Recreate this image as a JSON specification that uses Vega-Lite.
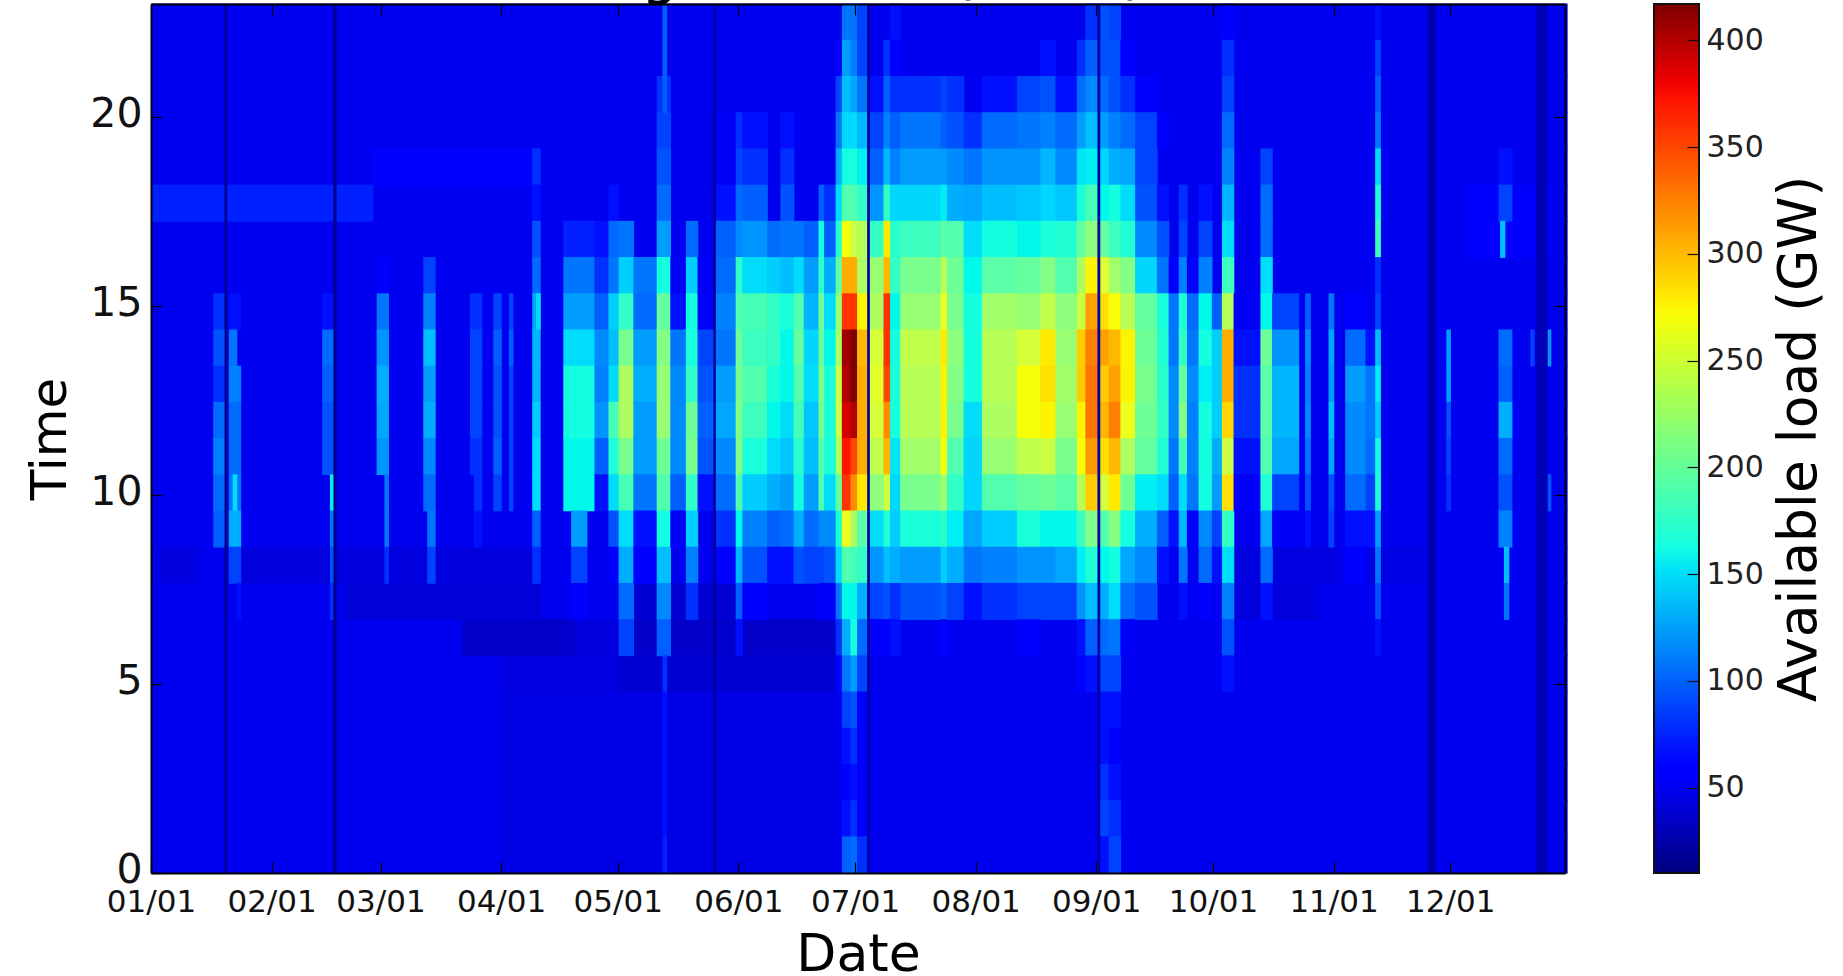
{"$schema":"https://vega.github.io/schema/vega-lite/v6.json","background":"white","padding":{"left":25,"right":0,"top":-53,"bottom":0},"spacing":85,"config":{"font":"DejaVu Sans","view":{"stroke":null}},"hconcat":[{"width":1414,"height":869,"title":{"text":"Avg net load (2015)","fontSize":58,"fontWeight":"normal","font":"DejaVu Sans","color":"black","offset":-2,"anchor":"middle"},"resolve":{"scale":{"y":"independent"},"axis":{"x":"independent","y":"independent"}},"layer":[{"data":{"values":[
{"a":0,"b":364,"h":0,"v":48},{"a":0,"b":364,"h":1,"v":48},{"a":0,"b":364,"h":2,"v":48},{"a":0,"b":364,"h":3,"v":48},{"a":0,"b":364,"h":4,"v":48},{"a":0,"b":364,"h":5,"v":48},{"a":0,"b":364,"h":6,"v":48},{"a":0,"b":364,"h":7,"v":48},{"a":0,"b":364,"h":8,"v":48},{"a":0,"b":364,"h":9,"v":48},{"a":0,"b":364,"h":10,"v":48},{"a":0,"b":364,"h":11,"v":48},{"a":0,"b":364,"h":12,"v":48},{"a":0,"b":364,"h":13,"v":48},{"a":0,"b":364,"h":14,"v":48},{"a":0,"b":364,"h":15,"v":48},{"a":0,"b":364,"h":16,"v":48},{"a":0,"b":364,"h":17,"v":48},{"a":0,"b":364,"h":18,"v":48},{"a":0,"b":364,"h":19,"v":48},{"a":0,"b":364,"h":20,"v":48},{"a":0,"b":364,"h":21,"v":48},{"a":0,"b":364,"h":22,"v":48},{"a":0,"b":364,"h":23,"v":48},
{"a":0,"b":57,"h":18,"v":62},{"a":57,"b":100,"h":19,"v":53},{"a":338,"b":360,"h":18,"v":58},{"a":338,"b":360,"h":17,"v":55},
{"a":90,"b":176,"h":0,"v":44},{"a":90,"b":176,"h":1,"v":44},{"a":90,"b":176,"h":2,"v":44},{"a":90,"b":176,"h":3,"v":44},{"a":90,"b":176,"h":4,"v":44},{"a":90,"b":176,"h":5,"v":43},
{"a":80,"b":109,"h":6,"v":35},{"a":109,"b":124,"h":6,"v":42},{"a":124,"b":176,"h":6,"v":35},{"a":120,"b":176,"h":5,"v":38},{"a":50,"b":100,"h":7,"v":40},{"a":124,"b":150,"h":7,"v":38},{"a":2,"b":12,"h":8,"v":42},{"a":23,"b":98,"h":8,"v":42},{"a":278,"b":300,"h":7,"v":42},{"a":278,"b":305,"h":8,"v":43},{"a":310,"b":330,"h":8,"v":44},
{"a":16,"b":19,"h":15,"v":65},{"a":16,"b":19,"h":14,"v":75},{"a":16,"b":19,"h":13,"v":65},{"a":16,"b":19,"h":12,"v":85},{"a":16,"b":19,"h":11,"v":95},{"a":16,"b":19,"h":10,"v":85},{"a":16,"b":19,"h":9,"v":80},
{"a":20,"b":23,"h":15,"v":60},{"a":20,"b":22,"h":14,"v":90},{"a":20,"b":23,"h":13,"v":95},{"a":20,"b":23,"h":12,"v":85},{"a":20,"b":23,"h":11,"v":85},{"a":20,"b":23,"h":10,"v":90},{"a":21,"b":22,"h":10,"v":150},{"a":20,"b":23,"h":9,"v":120},{"a":20,"b":23,"h":8,"v":70},{"a":22,"b":23,"h":7,"v":60},
{"a":44,"b":47,"h":15,"v":60},{"a":44,"b":47,"h":14,"v":85},{"a":44,"b":47,"h":13,"v":80},{"a":44,"b":47,"h":12,"v":75},{"a":44,"b":47,"h":11,"v":75},{"a":46,"b":47,"h":10,"v":160},{"a":46,"b":47,"h":9,"v":90},{"a":46,"b":47,"h":8,"v":75},{"a":46,"b":47,"h":7,"v":65},
{"a":58,"b":61,"h":16,"v":55},{"a":58,"b":61,"h":15,"v":90},{"a":58,"b":61,"h":14,"v":105},{"a":58,"b":61,"h":13,"v":120},{"a":58,"b":61,"h":12,"v":115},{"a":58,"b":61,"h":11,"v":105},{"a":60,"b":61,"h":10,"v":90},{"a":60,"b":61,"h":9,"v":90},{"a":60,"b":61,"h":8,"v":65},
{"a":70,"b":73,"h":16,"v":70},{"a":70,"b":73,"h":15,"v":95},{"a":70,"b":73,"h":14,"v":130},{"a":70,"b":73,"h":13,"v":110},{"a":70,"b":73,"h":12,"v":120},{"a":70,"b":73,"h":11,"v":100},{"a":70,"b":73,"h":10,"v":85},{"a":71,"b":73,"h":9,"v":90},{"a":71,"b":73,"h":8,"v":70},
{"a":82,"b":85,"h":15,"v":65},{"a":82,"b":85,"h":14,"v":70},{"a":82,"b":85,"h":13,"v":70},{"a":82,"b":85,"h":12,"v":70},{"a":82,"b":85,"h":11,"v":65},{"a":83,"b":85,"h":10,"v":65},{"a":83,"b":85,"h":9,"v":60},
{"a":88,"b":90,"h":15,"v":70},{"a":88,"b":90,"h":14,"v":80},{"a":88,"b":90,"h":13,"v":75},{"a":88,"b":90,"h":12,"v":75},{"a":88,"b":90,"h":11,"v":80},{"a":88,"b":90,"h":10,"v":70},
{"a":92,"b":93,"h":15,"v":70},{"a":92,"b":93,"h":14,"v":80},{"a":92,"b":93,"h":13,"v":70},{"a":92,"b":93,"h":12,"v":70},{"a":92,"b":93,"h":11,"v":70},{"a":92,"b":93,"h":10,"v":70},
{"a":98,"b":100,"h":19,"v":65},{"a":98,"b":100,"h":18,"v":60},{"a":98,"b":100,"h":17,"v":75},{"a":98,"b":100,"h":16,"v":85},{"a":98,"b":100,"h":15,"v":115},{"a":99,"b":100,"h":15,"v":150},{"a":98,"b":100,"h":14,"v":125},{"a":98,"b":100,"h":13,"v":125},{"a":98,"b":100,"h":12,"v":140},{"a":98,"b":100,"h":11,"v":150},{"a":98,"b":100,"h":10,"v":150},{"a":98,"b":100,"h":9,"v":80},{"a":98,"b":100,"h":8,"v":65},
{"a":106,"b":114,"h":17,"v":62},{"a":106,"b":114,"h":16,"v":90},{"a":106,"b":114,"h":15,"v":110},{"a":106,"b":114,"h":14,"v":150},{"a":106,"b":114,"h":13,"v":170},{"a":106,"b":114,"h":12,"v":170},{"a":106,"b":114,"h":11,"v":165},{"a":106,"b":114,"h":10,"v":165},{"a":108,"b":112,"h":9,"v":110},{"a":108,"b":112,"h":8,"v":70},{"a":108,"b":112,"h":7,"v":52},
{"a":114,"b":117.6,"h":17,"v":60},{"a":114,"b":117.6,"h":16,"v":65},{"a":114,"b":117.6,"h":15,"v":80},{"a":114,"b":117.6,"h":14,"v":100},{"a":114,"b":117.6,"h":13,"v":95},{"a":114,"b":117.6,"h":12,"v":105},{"a":114,"b":117.6,"h":11,"v":80},{"a":114,"b":117.6,"h":10,"v":60},
{"a":117.6,"b":120.2,"h":18,"v":60},{"a":117.6,"b":120.2,"h":17,"v":85},{"a":117.6,"b":120.2,"h":16,"v":90},{"a":117.6,"b":120.2,"h":15,"v":140},{"a":117.6,"b":120.2,"h":14,"v":130},{"a":117.6,"b":120.2,"h":13,"v":150},{"a":117.6,"b":120.2,"h":12,"v":200},{"a":117.6,"b":120.2,"h":11,"v":180},{"a":117.6,"b":120.2,"h":10,"v":150},{"a":117.6,"b":120.2,"h":9,"v":75},{"a":117.6,"b":120.2,"h":8,"v":55},
{"a":120.2,"b":124,"h":17,"v":90},{"a":120.2,"b":124,"h":16,"v":140},{"a":120.2,"b":124,"h":15,"v":190},{"a":120.2,"b":124,"h":14,"v":225},{"a":120.2,"b":124,"h":13,"v":250},{"a":120.2,"b":124,"h":12,"v":250},{"a":120.2,"b":124,"h":11,"v":225},{"a":120.2,"b":124,"h":10,"v":200},{"a":120.2,"b":124,"h":9,"v":150},{"a":120.2,"b":124,"h":8,"v":120},{"a":120.2,"b":124,"h":7,"v":85},{"a":120.2,"b":124,"h":6,"v":70},
{"a":124,"b":130,"h":16,"v":90},{"a":124,"b":130,"h":15,"v":85},{"a":124,"b":130,"h":14,"v":110},{"a":124,"b":130,"h":13,"v":120},{"a":124,"b":130,"h":12,"v":110},{"a":124,"b":130,"h":11,"v":110},{"a":124,"b":130,"h":10,"v":90},{"a":124,"b":130,"h":9,"v":60},{"a":124,"b":130,"h":8,"v":55},
{"a":130,"b":133.5,"h":21,"v":65},{"a":130,"b":133.5,"h":20,"v":70},{"a":130,"b":133.5,"h":19,"v":75},{"a":130,"b":133.5,"h":18,"v":85},{"a":130,"b":133.5,"h":17,"v":110},{"a":130,"b":133.5,"h":16,"v":170},{"a":130,"b":133.5,"h":15,"v":215},{"a":130,"b":133.5,"h":14,"v":230},{"a":130,"b":133.5,"h":13,"v":240},{"a":130,"b":133.5,"h":12,"v":240},{"a":130,"b":133.5,"h":11,"v":220},{"a":130,"b":133.5,"h":10,"v":205},{"a":130,"b":133.5,"h":9,"v":170},{"a":130,"b":133.5,"h":8,"v":130},{"a":130,"b":133.5,"h":7,"v":100},{"a":130,"b":133.5,"h":6,"v":80},{"a":131.5,"b":132.5,"h":5,"v":65},{"a":131.5,"b":132.5,"h":4,"v":60},{"a":131.5,"b":132.5,"h":3,"v":60},{"a":131.5,"b":132.5,"h":2,"v":60},{"a":131.5,"b":132.5,"h":1,"v":60},{"a":131.5,"b":132.5,"h":0,"v":62},{"a":131.5,"b":132.5,"h":23,"v":80},{"a":131.5,"b":132.5,"h":22,"v":80},{"a":131.5,"b":132.5,"h":21,"v":80},
{"a":133.5,"b":137.5,"h":16,"v":55},{"a":133.5,"b":137.5,"h":15,"v":60},{"a":133.5,"b":137.5,"h":14,"v":90},{"a":133.5,"b":137.5,"h":13,"v":100},{"a":133.5,"b":137.5,"h":12,"v":100},{"a":133.5,"b":137.5,"h":11,"v":100},{"a":133.5,"b":137.5,"h":10,"v":80},{"a":133.5,"b":137.5,"h":9,"v":55},
{"a":137.5,"b":140.5,"h":17,"v":85},{"a":137.5,"b":140.5,"h":16,"v":140},{"a":137.5,"b":140.5,"h":15,"v":170},{"a":137.5,"b":140.5,"h":14,"v":175},{"a":137.5,"b":140.5,"h":13,"v":190},{"a":137.5,"b":140.5,"h":12,"v":220},{"a":137.5,"b":140.5,"h":11,"v":225},{"a":137.5,"b":140.5,"h":10,"v":190},{"a":137.5,"b":140.5,"h":9,"v":140},{"a":137.5,"b":140.5,"h":8,"v":95},{"a":137.5,"b":140.5,"h":7,"v":65},
{"a":140.5,"b":144.7,"h":16,"v":50},{"a":140.5,"b":144.7,"h":15,"v":55},{"a":140.5,"b":144.7,"h":14,"v":70},{"a":140.5,"b":144.7,"h":13,"v":75},{"a":140.5,"b":144.7,"h":12,"v":80},{"a":140.5,"b":144.7,"h":11,"v":75},{"a":140.5,"b":144.7,"h":10,"v":60},
{"a":145,"b":151,"h":20,"v":50},{"a":145,"b":151,"h":19,"v":50},{"a":145,"b":151,"h":18,"v":60},{"a":145,"b":151,"h":17,"v":80},{"a":145,"b":151,"h":16,"v":85},{"a":145,"b":151,"h":15,"v":95},{"a":145,"b":151,"h":14,"v":90},{"a":145,"b":151,"h":13,"v":110},{"a":145,"b":151,"h":12,"v":115},{"a":145,"b":151,"h":11,"v":100},{"a":145,"b":151,"h":10,"v":85},{"a":145,"b":151,"h":9,"v":65},{"a":145,"b":151,"h":8,"v":55},
{"a":150.3,"b":152,"h":20,"v":65},{"a":150.3,"b":152,"h":19,"v":70},{"a":150.3,"b":152,"h":18,"v":85},{"a":150.3,"b":152,"h":17,"v":100},{"a":150.3,"b":152,"h":16,"v":190},{"a":150.3,"b":152,"h":15,"v":205},{"a":150.3,"b":152,"h":14,"v":220},{"a":150.3,"b":152,"h":13,"v":225},{"a":150.3,"b":152,"h":12,"v":230},{"a":150.3,"b":152,"h":11,"v":230},{"a":150.3,"b":152,"h":10,"v":205},{"a":150.3,"b":152,"h":9,"v":165},{"a":150.3,"b":152,"h":8,"v":125},{"a":150.3,"b":152,"h":7,"v":80},{"a":150.3,"b":152,"h":6,"v":60},
{"a":152,"b":158.4,"h":20,"v":60},{"a":152,"b":158.4,"h":19,"v":65},{"a":152,"b":158.4,"h":18,"v":80},{"a":152,"b":158.4,"h":17,"v":105},{"a":152,"b":158.4,"h":16,"v":150},{"a":152,"b":158.4,"h":15,"v":200},{"a":152,"b":158.4,"h":14,"v":195},{"a":152,"b":158.4,"h":13,"v":205},{"a":152,"b":158.4,"h":12,"v":195},{"a":152,"b":158.4,"h":11,"v":175},{"a":152,"b":158.4,"h":10,"v":140},{"a":152,"b":158.4,"h":9,"v":95},{"a":152,"b":158.4,"h":8,"v":75},{"a":152,"b":158.4,"h":7,"v":55},
{"a":158.4,"b":161.8,"h":17,"v":85},{"a":158.4,"b":161.8,"h":16,"v":140},{"a":158.4,"b":161.8,"h":15,"v":190},{"a":158.4,"b":161.8,"h":14,"v":190},{"a":158.4,"b":161.8,"h":13,"v":175},{"a":158.4,"b":161.8,"h":12,"v":165},{"a":158.4,"b":161.8,"h":11,"v":150},{"a":158.4,"b":161.8,"h":10,"v":120},{"a":158.4,"b":161.8,"h":9,"v":80},{"a":158.4,"b":161.8,"h":8,"v":60},
{"a":161.8,"b":165.2,"h":20,"v":60},{"a":161.8,"b":165.2,"h":19,"v":65},{"a":161.8,"b":165.2,"h":18,"v":75},{"a":161.8,"b":165.2,"h":17,"v":90},{"a":161.8,"b":165.2,"h":16,"v":130},{"a":161.8,"b":165.2,"h":15,"v":175},{"a":161.8,"b":165.2,"h":14,"v":165},{"a":161.8,"b":165.2,"h":13,"v":165},{"a":161.8,"b":165.2,"h":12,"v":150},{"a":161.8,"b":165.2,"h":11,"v":135},{"a":161.8,"b":165.2,"h":10,"v":110},{"a":161.8,"b":165.2,"h":9,"v":85},{"a":161.8,"b":165.2,"h":8,"v":60},
{"a":165.2,"b":167.8,"h":17,"v":90},{"a":165.2,"b":167.8,"h":16,"v":150},{"a":165.2,"b":167.8,"h":15,"v":205},{"a":165.2,"b":167.8,"h":14,"v":215},{"a":165.2,"b":167.8,"h":13,"v":205},{"a":165.2,"b":167.8,"h":12,"v":200},{"a":165.2,"b":167.8,"h":11,"v":185},{"a":165.2,"b":167.8,"h":10,"v":170},{"a":165.2,"b":167.8,"h":9,"v":120},{"a":165.2,"b":167.8,"h":8,"v":75},
{"a":167.8,"b":171.6,"h":17,"v":80},{"a":167.8,"b":171.6,"h":16,"v":110},{"a":167.8,"b":171.6,"h":15,"v":125},{"a":167.8,"b":171.6,"h":14,"v":145},{"a":167.8,"b":171.6,"h":13,"v":150},{"a":167.8,"b":171.6,"h":12,"v":135},{"a":167.8,"b":171.6,"h":11,"v":130},{"a":167.8,"b":171.6,"h":10,"v":110},{"a":167.8,"b":171.6,"h":9,"v":85},{"a":167.8,"b":171.6,"h":8,"v":70},
{"a":171.6,"b":173,"h":18,"v":80},{"a":171.6,"b":173,"h":17,"v":170},{"a":171.6,"b":173,"h":16,"v":190},{"a":171.6,"b":173,"h":15,"v":220},{"a":171.6,"b":173,"h":14,"v":220},{"a":171.6,"b":173,"h":13,"v":230},{"a":171.6,"b":173,"h":12,"v":225},{"a":171.6,"b":173,"h":11,"v":210},{"a":171.6,"b":173,"h":10,"v":205},{"a":171.6,"b":173,"h":9,"v":100},{"a":171.6,"b":173,"h":8,"v":70},{"a":171.6,"b":173,"h":7,"v":55},
{"a":173,"b":176,"h":18,"v":65},{"a":173,"b":176,"h":17,"v":80},{"a":173,"b":176,"h":16,"v":120},{"a":173,"b":176,"h":15,"v":150},{"a":173,"b":176,"h":14,"v":165},{"a":173,"b":176,"h":13,"v":175},{"a":173,"b":176,"h":12,"v":175},{"a":173,"b":176,"h":11,"v":175},{"a":173,"b":176,"h":10,"v":150},{"a":173,"b":176,"h":9,"v":100},{"a":173,"b":176,"h":8,"v":75},{"a":173,"b":176,"h":7,"v":50},
{"a":176,"b":177.6,"h":22,"v":55},{"a":176,"b":177.6,"h":21,"v":70},{"a":176,"b":177.6,"h":20,"v":90},{"a":176,"b":177.6,"h":19,"v":120},{"a":176,"b":177.6,"h":18,"v":150},{"a":176,"b":177.6,"h":17,"v":185},{"a":176,"b":177.6,"h":16,"v":215},{"a":176,"b":177.6,"h":15,"v":240},{"a":176,"b":177.6,"h":14,"v":250},{"a":176,"b":177.6,"h":13,"v":265},{"a":176,"b":177.6,"h":12,"v":265},{"a":176,"b":177.6,"h":11,"v":250},{"a":176,"b":177.6,"h":10,"v":215},{"a":176,"b":177.6,"h":9,"v":180},{"a":176,"b":177.6,"h":8,"v":150},{"a":176,"b":177.6,"h":7,"v":90},{"a":176,"b":177.6,"h":6,"v":65},{"a":176,"b":177.6,"h":5,"v":55},
{"a":177.6,"b":179.8,"h":23,"v":90},{"a":177.6,"b":179.8,"h":22,"v":110},{"a":177.6,"b":179.8,"h":21,"v":130},{"a":177.6,"b":179.8,"h":20,"v":145},{"a":177.6,"b":179.8,"h":19,"v":170},{"a":177.6,"b":179.8,"h":18,"v":205},{"a":177.6,"b":179.8,"h":17,"v":285},{"a":177.6,"b":179.8,"h":16,"v":325},{"a":177.6,"b":179.8,"h":15,"v":370},{"a":177.6,"b":179.8,"h":14,"v":405},{"a":177.6,"b":179.8,"h":13,"v":400},{"a":177.6,"b":179.8,"h":12,"v":390},{"a":177.6,"b":179.8,"h":11,"v":375},{"a":177.6,"b":179.8,"h":10,"v":370},{"a":177.6,"b":179.8,"h":9,"v":280},{"a":177.6,"b":179.8,"h":8,"v":205},{"a":177.6,"b":179.8,"h":7,"v":165},{"a":177.6,"b":179.8,"h":6,"v":120},{"a":177.6,"b":179.8,"h":5,"v":90},{"a":177.6,"b":179.8,"h":4,"v":70},{"a":177.6,"b":179.8,"h":3,"v":60},{"a":177.6,"b":179.8,"h":2,"v":55},{"a":177.6,"b":179.8,"h":1,"v":60},{"a":177.6,"b":179.8,"h":0,"v":80},
{"a":179.8,"b":181.5,"h":23,"v":90},{"a":179.8,"b":181.5,"h":22,"v":95},{"a":179.8,"b":181.5,"h":21,"v":115},{"a":179.8,"b":181.5,"h":20,"v":150},{"a":179.8,"b":181.5,"h":19,"v":175},{"a":179.8,"b":181.5,"h":18,"v":205},{"a":179.8,"b":181.5,"h":17,"v":265},{"a":179.8,"b":181.5,"h":16,"v":325},{"a":179.8,"b":181.5,"h":15,"v":370},{"a":179.8,"b":181.5,"h":14,"v":415},{"a":179.8,"b":181.5,"h":13,"v":415},{"a":179.8,"b":181.5,"h":12,"v":400},{"a":179.8,"b":181.5,"h":11,"v":365},{"a":179.8,"b":181.5,"h":10,"v":340},{"a":179.8,"b":181.5,"h":9,"v":250},{"a":179.8,"b":181.5,"h":8,"v":200},{"a":179.8,"b":181.5,"h":7,"v":165},{"a":179.8,"b":181.5,"h":6,"v":170},{"a":179.8,"b":181.5,"h":5,"v":110},{"a":179.8,"b":181.5,"h":4,"v":75},{"a":179.8,"b":181.5,"h":3,"v":65},{"a":179.8,"b":181.5,"h":2,"v":60},{"a":179.8,"b":181.5,"h":1,"v":65},{"a":179.8,"b":181.5,"h":0,"v":85},
{"a":181.5,"b":184.5,"h":23,"v":70},{"a":181.5,"b":184.5,"h":22,"v":70},{"a":181.5,"b":184.5,"h":21,"v":90},{"a":181.5,"b":184.5,"h":20,"v":125},{"a":181.5,"b":184.5,"h":19,"v":160},{"a":181.5,"b":184.5,"h":18,"v":190},{"a":181.5,"b":184.5,"h":17,"v":255},{"a":181.5,"b":184.5,"h":16,"v":250},{"a":181.5,"b":184.5,"h":15,"v":290},{"a":181.5,"b":184.5,"h":14,"v":320},{"a":181.5,"b":184.5,"h":13,"v":325},{"a":181.5,"b":184.5,"h":12,"v":325},{"a":181.5,"b":184.5,"h":11,"v":325},{"a":181.5,"b":184.5,"h":10,"v":295},{"a":181.5,"b":184.5,"h":9,"v":210},{"a":181.5,"b":184.5,"h":8,"v":190},{"a":181.5,"b":184.5,"h":7,"v":120},{"a":181.5,"b":184.5,"h":6,"v":85},{"a":181.5,"b":184.5,"h":5,"v":70},{"a":181.5,"b":184.5,"h":4,"v":55},{"a":181.5,"b":184.5,"h":3,"v":52},{"a":181.5,"b":184.5,"h":2,"v":52},{"a":181.5,"b":184.5,"h":1,"v":55},{"a":181.5,"b":184.5,"h":0,"v":65},
{"a":184.5,"b":188.3,"h":21,"v":60},{"a":184.5,"b":188.3,"h":20,"v":70},{"a":184.5,"b":188.3,"h":19,"v":80},{"a":184.5,"b":188.3,"h":18,"v":105},{"a":184.5,"b":188.3,"h":17,"v":190},{"a":184.5,"b":188.3,"h":16,"v":240},{"a":184.5,"b":188.3,"h":15,"v":250},{"a":184.5,"b":188.3,"h":14,"v":270},{"a":184.5,"b":188.3,"h":13,"v":275},{"a":184.5,"b":188.3,"h":12,"v":270},{"a":184.5,"b":188.3,"h":11,"v":260},{"a":184.5,"b":188.3,"h":10,"v":235},{"a":184.5,"b":188.3,"h":9,"v":150},{"a":184.5,"b":188.3,"h":8,"v":105},{"a":184.5,"b":188.3,"h":7,"v":70},{"a":184.5,"b":188.3,"h":6,"v":55},
{"a":188.3,"b":190,"h":22,"v":65},{"a":188.3,"b":190,"h":21,"v":80},{"a":188.3,"b":190,"h":20,"v":95},{"a":188.3,"b":190,"h":19,"v":125},{"a":188.3,"b":190,"h":18,"v":190},{"a":188.3,"b":190,"h":17,"v":295},{"a":188.3,"b":190,"h":16,"v":320},{"a":188.3,"b":190,"h":15,"v":370},{"a":188.3,"b":190,"h":14,"v":370},{"a":188.3,"b":190,"h":13,"v":365},{"a":188.3,"b":190,"h":12,"v":340},{"a":188.3,"b":190,"h":11,"v":320},{"a":188.3,"b":190,"h":10,"v":265},{"a":188.3,"b":190,"h":9,"v":180},{"a":188.3,"b":190,"h":8,"v":130},{"a":188.3,"b":190,"h":7,"v":75},{"a":188.3,"b":190,"h":6,"v":55},
{"a":190,"b":192.6,"h":23,"v":60},{"a":190,"b":192.6,"h":22,"v":55},{"a":190,"b":192.6,"h":21,"v":65},{"a":190,"b":192.6,"h":20,"v":80},{"a":190,"b":192.6,"h":19,"v":95},{"a":190,"b":192.6,"h":18,"v":145},{"a":190,"b":192.6,"h":17,"v":185},{"a":190,"b":192.6,"h":16,"v":190},{"a":190,"b":192.6,"h":15,"v":165},{"a":190,"b":192.6,"h":14,"v":170},{"a":190,"b":192.6,"h":13,"v":175},{"a":190,"b":192.6,"h":12,"v":170},{"a":190,"b":192.6,"h":11,"v":155},{"a":190,"b":192.6,"h":10,"v":145},{"a":190,"b":192.6,"h":9,"v":140},{"a":190,"b":192.6,"h":8,"v":120},{"a":190,"b":192.6,"h":7,"v":65},{"a":190,"b":192.6,"h":6,"v":60},
{"a":192.6,"b":203,"h":21,"v":65},{"a":192.6,"b":203,"h":20,"v":90},{"a":192.6,"b":203,"h":19,"v":110},{"a":192.6,"b":203,"h":18,"v":145},{"a":192.6,"b":203,"h":17,"v":195},{"a":192.6,"b":203,"h":16,"v":225},{"a":192.6,"b":203,"h":15,"v":240},{"a":192.6,"b":203,"h":14,"v":260},{"a":192.6,"b":203,"h":13,"v":255},{"a":192.6,"b":203,"h":12,"v":255},{"a":192.6,"b":203,"h":11,"v":245},{"a":192.6,"b":203,"h":10,"v":225},{"a":192.6,"b":203,"h":9,"v":175},{"a":192.6,"b":203,"h":8,"v":110},{"a":192.6,"b":203,"h":7,"v":75},
{"a":203,"b":204.6,"h":21,"v":70},{"a":203,"b":204.6,"h":20,"v":80},{"a":203,"b":204.6,"h":19,"v":110},{"a":203,"b":204.6,"h":18,"v":160},{"a":203,"b":204.6,"h":17,"v":210},{"a":203,"b":204.6,"h":16,"v":255},{"a":203,"b":204.6,"h":15,"v":280},{"a":203,"b":204.6,"h":14,"v":295},{"a":203,"b":204.6,"h":13,"v":290},{"a":203,"b":204.6,"h":12,"v":290},{"a":203,"b":204.6,"h":11,"v":285},{"a":203,"b":204.6,"h":10,"v":245},{"a":203,"b":204.6,"h":9,"v":185},{"a":203,"b":204.6,"h":8,"v":140},{"a":203,"b":204.6,"h":7,"v":80},{"a":203,"b":204.6,"h":6,"v":55},
{"a":204.6,"b":208.9,"h":21,"v":65},{"a":204.6,"b":208.9,"h":20,"v":75},{"a":204.6,"b":208.9,"h":19,"v":100},{"a":204.6,"b":208.9,"h":18,"v":120},{"a":204.6,"b":208.9,"h":17,"v":205},{"a":204.6,"b":208.9,"h":16,"v":220},{"a":204.6,"b":208.9,"h":15,"v":225},{"a":204.6,"b":208.9,"h":14,"v":235},{"a":204.6,"b":208.9,"h":13,"v":230},{"a":204.6,"b":208.9,"h":12,"v":225},{"a":204.6,"b":208.9,"h":11,"v":205},{"a":204.6,"b":208.9,"h":10,"v":190},{"a":204.6,"b":208.9,"h":9,"v":160},{"a":204.6,"b":208.9,"h":8,"v":120},{"a":204.6,"b":208.9,"h":7,"v":70},
{"a":208.9,"b":213.6,"h":20,"v":65},{"a":208.9,"b":213.6,"h":19,"v":90},{"a":208.9,"b":213.6,"h":18,"v":115},{"a":208.9,"b":213.6,"h":17,"v":150},{"a":208.9,"b":213.6,"h":16,"v":165},{"a":208.9,"b":213.6,"h":15,"v":170},{"a":208.9,"b":213.6,"h":14,"v":170},{"a":208.9,"b":213.6,"h":13,"v":170},{"a":208.9,"b":213.6,"h":12,"v":150},{"a":208.9,"b":213.6,"h":11,"v":145},{"a":208.9,"b":213.6,"h":10,"v":145},{"a":208.9,"b":213.6,"h":9,"v":115},{"a":208.9,"b":213.6,"h":8,"v":90},{"a":208.9,"b":213.6,"h":7,"v":60},
{"a":213.6,"b":222.6,"h":21,"v":60},{"a":213.6,"b":222.6,"h":20,"v":85},{"a":213.6,"b":222.6,"h":19,"v":105},{"a":213.6,"b":222.6,"h":18,"v":130},{"a":213.6,"b":222.6,"h":17,"v":170},{"a":213.6,"b":222.6,"h":16,"v":210},{"a":213.6,"b":222.6,"h":15,"v":245},{"a":213.6,"b":222.6,"h":14,"v":255},{"a":213.6,"b":222.6,"h":13,"v":255},{"a":213.6,"b":222.6,"h":12,"v":250},{"a":213.6,"b":222.6,"h":11,"v":240},{"a":213.6,"b":222.6,"h":10,"v":205},{"a":213.6,"b":222.6,"h":9,"v":140},{"a":213.6,"b":222.6,"h":8,"v":95},{"a":213.6,"b":222.6,"h":7,"v":65},
{"a":222.6,"b":228.6,"h":21,"v":70},{"a":222.6,"b":228.6,"h":20,"v":90},{"a":222.6,"b":228.6,"h":19,"v":105},{"a":222.6,"b":228.6,"h":18,"v":135},{"a":222.6,"b":228.6,"h":17,"v":165},{"a":222.6,"b":228.6,"h":16,"v":215},{"a":222.6,"b":228.6,"h":15,"v":240},{"a":222.6,"b":228.6,"h":14,"v":270},{"a":222.6,"b":228.6,"h":13,"v":285},{"a":222.6,"b":228.6,"h":12,"v":285},{"a":222.6,"b":228.6,"h":11,"v":260},{"a":222.6,"b":228.6,"h":10,"v":215},{"a":222.6,"b":228.6,"h":9,"v":175},{"a":222.6,"b":228.6,"h":8,"v":105},{"a":222.6,"b":228.6,"h":7,"v":70},{"a":222.6,"b":228.6,"h":6,"v":55},
{"a":228.6,"b":232.5,"h":22,"v":60},{"a":228.6,"b":232.5,"h":21,"v":75},{"a":228.6,"b":232.5,"h":20,"v":95},{"a":228.6,"b":232.5,"h":19,"v":125},{"a":228.6,"b":232.5,"h":18,"v":145},{"a":228.6,"b":232.5,"h":17,"v":175},{"a":228.6,"b":232.5,"h":16,"v":230},{"a":228.6,"b":232.5,"h":15,"v":260},{"a":228.6,"b":232.5,"h":14,"v":295},{"a":228.6,"b":232.5,"h":13,"v":300},{"a":228.6,"b":232.5,"h":12,"v":290},{"a":228.6,"b":232.5,"h":11,"v":265},{"a":228.6,"b":232.5,"h":10,"v":220},{"a":228.6,"b":232.5,"h":9,"v":165},{"a":228.6,"b":232.5,"h":8,"v":105},{"a":228.6,"b":232.5,"h":7,"v":70},
{"a":232.5,"b":238,"h":21,"v":60},{"a":232.5,"b":238,"h":20,"v":85},{"a":232.5,"b":238,"h":19,"v":100},{"a":232.5,"b":238,"h":18,"v":135},{"a":232.5,"b":238,"h":17,"v":180},{"a":232.5,"b":238,"h":16,"v":205},{"a":232.5,"b":238,"h":15,"v":235},{"a":232.5,"b":238,"h":14,"v":240},{"a":232.5,"b":238,"h":13,"v":245},{"a":232.5,"b":238,"h":12,"v":240},{"a":232.5,"b":238,"h":11,"v":225},{"a":232.5,"b":238,"h":10,"v":210},{"a":232.5,"b":238,"h":9,"v":165},{"a":232.5,"b":238,"h":8,"v":115},{"a":232.5,"b":238,"h":7,"v":70},
{"a":238,"b":240.2,"h":22,"v":65},{"a":238,"b":240.2,"h":21,"v":85},{"a":238,"b":240.2,"h":20,"v":110},{"a":238,"b":240.2,"h":19,"v":155},{"a":238,"b":240.2,"h":18,"v":175},{"a":238,"b":240.2,"h":17,"v":215},{"a":238,"b":240.2,"h":16,"v":250},{"a":238,"b":240.2,"h":15,"v":265},{"a":238,"b":240.2,"h":14,"v":310},{"a":238,"b":240.2,"h":13,"v":310},{"a":238,"b":240.2,"h":12,"v":290},{"a":238,"b":240.2,"h":11,"v":285},{"a":238,"b":240.2,"h":10,"v":255},{"a":238,"b":240.2,"h":9,"v":195},{"a":238,"b":240.2,"h":8,"v":160},{"a":238,"b":240.2,"h":7,"v":105},{"a":238,"b":240.2,"h":6,"v":60},{"a":238,"b":240.2,"h":5,"v":55},
{"a":240.2,"b":243.6,"h":23,"v":65},{"a":240.2,"b":243.6,"h":22,"v":80},{"a":240.2,"b":243.6,"h":21,"v":100},{"a":240.2,"b":243.6,"h":20,"v":130},{"a":240.2,"b":243.6,"h":19,"v":160},{"a":240.2,"b":243.6,"h":18,"v":200},{"a":240.2,"b":243.6,"h":17,"v":235},{"a":240.2,"b":243.6,"h":16,"v":290},{"a":240.2,"b":243.6,"h":15,"v":330},{"a":240.2,"b":243.6,"h":14,"v":345},{"a":240.2,"b":243.6,"h":13,"v":350},{"a":240.2,"b":243.6,"h":12,"v":350},{"a":240.2,"b":243.6,"h":11,"v":335},{"a":240.2,"b":243.6,"h":10,"v":310},{"a":240.2,"b":243.6,"h":9,"v":230},{"a":240.2,"b":243.6,"h":8,"v":180},{"a":240.2,"b":243.6,"h":7,"v":130},{"a":240.2,"b":243.6,"h":6,"v":80},{"a":240.2,"b":243.6,"h":5,"v":60},
{"a":244,"b":246.2,"h":23,"v":75},{"a":244,"b":246.2,"h":22,"v":75},{"a":244,"b":246.2,"h":21,"v":85},{"a":244,"b":246.2,"h":20,"v":110},{"a":244,"b":246.2,"h":19,"v":145},{"a":244,"b":246.2,"h":18,"v":165},{"a":244,"b":246.2,"h":17,"v":215},{"a":244,"b":246.2,"h":16,"v":275},{"a":244,"b":246.2,"h":15,"v":300},{"a":244,"b":246.2,"h":14,"v":330},{"a":244,"b":246.2,"h":13,"v":310},{"a":244,"b":246.2,"h":12,"v":320},{"a":244,"b":246.2,"h":11,"v":300},{"a":244,"b":246.2,"h":10,"v":270},{"a":244,"b":246.2,"h":9,"v":205},{"a":244,"b":246.2,"h":8,"v":165},{"a":244,"b":246.2,"h":7,"v":120},{"a":244,"b":246.2,"h":6,"v":85},{"a":244,"b":246.2,"h":5,"v":70},{"a":244,"b":246.2,"h":4,"v":60},{"a":244,"b":246.2,"h":3,"v":60},{"a":244,"b":246.2,"h":2,"v":65},{"a":244,"b":246.2,"h":1,"v":70},{"a":244,"b":246.2,"h":0,"v":60},
{"a":246.2,"b":249.2,"h":23,"v":70},{"a":246.2,"b":249.2,"h":22,"v":75},{"a":246.2,"b":249.2,"h":21,"v":75},{"a":246.2,"b":249.2,"h":20,"v":95},{"a":246.2,"b":249.2,"h":19,"v":120},{"a":246.2,"b":249.2,"h":18,"v":170},{"a":246.2,"b":249.2,"h":17,"v":195},{"a":246.2,"b":249.2,"h":16,"v":245},{"a":246.2,"b":249.2,"h":15,"v":285},{"a":246.2,"b":249.2,"h":14,"v":320},{"a":246.2,"b":249.2,"h":13,"v":330},{"a":246.2,"b":249.2,"h":12,"v":345},{"a":246.2,"b":249.2,"h":11,"v":320},{"a":246.2,"b":249.2,"h":10,"v":295},{"a":246.2,"b":249.2,"h":9,"v":230},{"a":246.2,"b":249.2,"h":8,"v":170},{"a":246.2,"b":249.2,"h":7,"v":150},{"a":246.2,"b":249.2,"h":6,"v":90},{"a":246.2,"b":249.2,"h":5,"v":70},{"a":246.2,"b":249.2,"h":4,"v":60},{"a":246.2,"b":249.2,"h":3,"v":55},{"a":246.2,"b":249.2,"h":2,"v":60},{"a":246.2,"b":249.2,"h":1,"v":65},{"a":246.2,"b":249.2,"h":0,"v":70},
{"a":249.2,"b":253,"h":22,"v":55},{"a":249.2,"b":253,"h":21,"v":65},{"a":249.2,"b":253,"h":20,"v":85},{"a":249.2,"b":253,"h":19,"v":115},{"a":249.2,"b":253,"h":18,"v":150},{"a":249.2,"b":253,"h":17,"v":180},{"a":249.2,"b":253,"h":16,"v":230},{"a":249.2,"b":253,"h":15,"v":255},{"a":249.2,"b":253,"h":14,"v":290},{"a":249.2,"b":253,"h":13,"v":290},{"a":249.2,"b":253,"h":12,"v":280},{"a":249.2,"b":253,"h":11,"v":250},{"a":249.2,"b":253,"h":10,"v":220},{"a":249.2,"b":253,"h":9,"v":170},{"a":249.2,"b":253,"h":8,"v":115},{"a":249.2,"b":253,"h":7,"v":85},{"a":249.2,"b":253,"h":6,"v":50},
{"a":253,"b":258.6,"h":21,"v":55},{"a":253,"b":258.6,"h":20,"v":70},{"a":253,"b":258.6,"h":19,"v":70},{"a":253,"b":258.6,"h":18,"v":75},{"a":253,"b":258.6,"h":17,"v":100},{"a":253,"b":258.6,"h":16,"v":145},{"a":253,"b":258.6,"h":15,"v":215},{"a":253,"b":258.6,"h":14,"v":220},{"a":253,"b":258.6,"h":13,"v":225},{"a":253,"b":258.6,"h":12,"v":220},{"a":253,"b":258.6,"h":11,"v":215},{"a":253,"b":258.6,"h":10,"v":160},{"a":253,"b":258.6,"h":9,"v":120},{"a":253,"b":258.6,"h":8,"v":100},{"a":253,"b":258.6,"h":7,"v":75},
{"a":258.6,"b":261.6,"h":20,"v":55},{"a":258.6,"b":261.6,"h":18,"v":60},{"a":258.6,"b":261.6,"h":17,"v":75},{"a":258.6,"b":261.6,"h":16,"v":90},{"a":258.6,"b":261.6,"h":15,"v":175},{"a":258.6,"b":261.6,"h":14,"v":180},{"a":258.6,"b":261.6,"h":13,"v":185},{"a":258.6,"b":261.6,"h":12,"v":190},{"a":258.6,"b":261.6,"h":11,"v":180},{"a":258.6,"b":261.6,"h":10,"v":150},{"a":258.6,"b":261.6,"h":9,"v":80},{"a":258.6,"b":261.6,"h":8,"v":60},
{"a":261.6,"b":264.2,"h":16,"v":55},{"a":261.6,"b":264.2,"h":15,"v":90},{"a":261.6,"b":264.2,"h":14,"v":90},{"a":261.6,"b":264.2,"h":13,"v":100},{"a":261.6,"b":264.2,"h":12,"v":100},{"a":261.6,"b":264.2,"h":11,"v":90},{"a":261.6,"b":264.2,"h":10,"v":80},{"a":261.6,"b":264.2,"h":9,"v":60},
{"a":264.2,"b":266.3,"h":18,"v":65},{"a":264.2,"b":266.3,"h":17,"v":70},{"a":264.2,"b":266.3,"h":16,"v":95},{"a":264.2,"b":266.3,"h":15,"v":180},{"a":264.2,"b":266.3,"h":14,"v":190},{"a":264.2,"b":266.3,"h":13,"v":215},{"a":264.2,"b":266.3,"h":12,"v":230},{"a":264.2,"b":266.3,"h":11,"v":200},{"a":264.2,"b":266.3,"h":10,"v":150},{"a":264.2,"b":266.3,"h":9,"v":125},{"a":264.2,"b":266.3,"h":8,"v":90},{"a":264.2,"b":266.3,"h":7,"v":60},
{"a":266.3,"b":269.3,"h":16,"v":55},{"a":266.3,"b":269.3,"h":15,"v":85},{"a":266.3,"b":269.3,"h":14,"v":90},{"a":266.3,"b":269.3,"h":13,"v":100},{"a":266.3,"b":269.3,"h":12,"v":95},{"a":266.3,"b":269.3,"h":11,"v":95},{"a":266.3,"b":269.3,"h":10,"v":90},{"a":266.3,"b":269.3,"h":9,"v":55},
{"a":269.3,"b":272.7,"h":18,"v":60},{"a":269.3,"b":272.7,"h":17,"v":70},{"a":269.3,"b":272.7,"h":16,"v":95},{"a":269.3,"b":272.7,"h":15,"v":165},{"a":269.3,"b":272.7,"h":14,"v":170},{"a":269.3,"b":272.7,"h":13,"v":160},{"a":269.3,"b":272.7,"h":12,"v":170},{"a":269.3,"b":272.7,"h":11,"v":170},{"a":269.3,"b":272.7,"h":10,"v":170},{"a":269.3,"b":272.7,"h":9,"v":100},{"a":269.3,"b":272.7,"h":8,"v":85},{"a":269.3,"b":272.7,"h":7,"v":55},
{"a":272.7,"b":275.3,"h":15,"v":80},{"a":272.7,"b":275.3,"h":14,"v":140},{"a":272.7,"b":275.3,"h":13,"v":140},{"a":272.7,"b":275.3,"h":12,"v":140},{"a":272.7,"b":275.3,"h":11,"v":120},{"a":272.7,"b":275.3,"h":10,"v":110},{"a":272.7,"b":275.3,"h":9,"v":70},{"a":272.7,"b":275.3,"h":8,"v":60},
{"a":275.3,"b":278.3,"h":23,"v":55},{"a":275.3,"b":278.3,"h":22,"v":65},{"a":275.3,"b":278.3,"h":21,"v":70},{"a":275.3,"b":278.3,"h":20,"v":85},{"a":275.3,"b":278.3,"h":19,"v":95},{"a":275.3,"b":278.3,"h":18,"v":125},{"a":275.3,"b":278.3,"h":17,"v":150},{"a":275.3,"b":278.3,"h":16,"v":195},{"a":275.3,"b":278.3,"h":15,"v":255},{"a":275.3,"b":278.3,"h":14,"v":325},{"a":275.3,"b":278.3,"h":13,"v":325},{"a":275.3,"b":278.3,"h":12,"v":305},{"a":275.3,"b":278.3,"h":11,"v":265},{"a":275.3,"b":278.3,"h":10,"v":300},{"a":275.3,"b":278.3,"h":9,"v":190},{"a":275.3,"b":278.3,"h":8,"v":150},{"a":275.3,"b":278.3,"h":7,"v":95},{"a":275.3,"b":278.3,"h":6,"v":75},{"a":275.3,"b":278.3,"h":5,"v":60},
{"a":278.3,"b":285.2,"h":15,"v":50},{"a":278.3,"b":285.2,"h":14,"v":60},{"a":278.3,"b":285.2,"h":13,"v":65},{"a":278.3,"b":285.2,"h":12,"v":65},{"a":278.3,"b":285.2,"h":11,"v":60},{"a":278.3,"b":285.2,"h":10,"v":55},
{"a":285.2,"b":288.2,"h":19,"v":70},{"a":285.2,"b":288.2,"h":18,"v":85},{"a":285.2,"b":288.2,"h":17,"v":85},{"a":285.2,"b":288.2,"h":16,"v":150},{"a":285.2,"b":288.2,"h":15,"v":165},{"a":285.2,"b":288.2,"h":14,"v":220},{"a":285.2,"b":288.2,"h":13,"v":210},{"a":285.2,"b":288.2,"h":12,"v":210},{"a":285.2,"b":288.2,"h":11,"v":205},{"a":285.2,"b":288.2,"h":10,"v":180},{"a":285.2,"b":288.2,"h":9,"v":115},{"a":285.2,"b":288.2,"h":8,"v":85},{"a":285.2,"b":288.2,"h":7,"v":60},
{"a":288.2,"b":295,"h":15,"v":70},{"a":288.2,"b":295,"h":14,"v":105},{"a":288.2,"b":295,"h":13,"v":125},{"a":288.2,"b":295,"h":12,"v":125},{"a":288.2,"b":295,"h":11,"v":115},{"a":288.2,"b":295,"h":10,"v":70},{"a":288.2,"b":295,"h":9,"v":50},
{"a":296.7,"b":298,"h":15,"v":80},{"a":296.7,"b":298,"h":14,"v":100},{"a":296.7,"b":298,"h":13,"v":95},{"a":296.7,"b":298,"h":12,"v":100},{"a":296.7,"b":298,"h":11,"v":90},{"a":296.7,"b":298,"h":10,"v":75},{"a":296.7,"b":298,"h":9,"v":60},
{"a":302.7,"b":304,"h":15,"v":90},{"a":302.7,"b":304,"h":14,"v":115},{"a":302.7,"b":304,"h":13,"v":110},{"a":302.7,"b":304,"h":12,"v":130},{"a":302.7,"b":304,"h":11,"v":115},{"a":302.7,"b":304,"h":10,"v":75},{"a":302.7,"b":304,"h":9,"v":70},
{"a":307,"b":312.2,"h":15,"v":55},{"a":307,"b":312.2,"h":14,"v":85},{"a":307,"b":312.2,"h":13,"v":110},{"a":307,"b":312.2,"h":12,"v":100},{"a":307,"b":312.2,"h":11,"v":100},{"a":307,"b":312.2,"h":10,"v":85},{"a":307,"b":312.2,"h":9,"v":60},{"a":307,"b":312.2,"h":8,"v":55},
{"a":312.2,"b":314.7,"h":14,"v":60},{"a":312.2,"b":314.7,"h":13,"v":90},{"a":312.2,"b":314.7,"h":12,"v":90},{"a":312.2,"b":314.7,"h":11,"v":85},{"a":312.2,"b":314.7,"h":10,"v":70},{"a":312.2,"b":314.7,"h":9,"v":60},
{"a":314.7,"b":316,"h":23,"v":60},{"a":314.7,"b":316,"h":22,"v":70},{"a":314.7,"b":316,"h":21,"v":80},{"a":314.7,"b":316,"h":20,"v":90},{"a":314.7,"b":316,"h":19,"v":150},{"a":314.7,"b":316,"h":18,"v":180},{"a":314.7,"b":316,"h":17,"v":195},{"a":314.7,"b":316,"h":16,"v":65},{"a":314.7,"b":316,"h":15,"v":70},{"a":314.7,"b":316,"h":14,"v":130},{"a":314.7,"b":316,"h":13,"v":160},{"a":314.7,"b":316,"h":12,"v":140},{"a":314.7,"b":316,"h":11,"v":170},{"a":314.7,"b":316,"h":10,"v":180},{"a":314.7,"b":316,"h":9,"v":110},{"a":314.7,"b":316,"h":8,"v":90},{"a":314.7,"b":316,"h":7,"v":75},{"a":314.7,"b":316,"h":6,"v":60},
{"a":333,"b":334,"h":14,"v":110},{"a":333,"b":334,"h":13,"v":110},{"a":333,"b":334,"h":12,"v":75},{"a":333,"b":334,"h":11,"v":70},{"a":333,"b":334,"h":10,"v":65},
{"a":346.4,"b":349.8,"h":19,"v":60},{"a":346.4,"b":349.8,"h":18,"v":70},{"a":346.8,"b":348,"h":17,"v":130},{"a":346.4,"b":349.8,"h":14,"v":85},{"a":346.4,"b":349.8,"h":13,"v":80},{"a":346.4,"b":349.8,"h":12,"v":120},{"a":346.4,"b":349.8,"h":11,"v":85},{"a":346.4,"b":349.8,"h":10,"v":75},{"a":346.4,"b":349.8,"h":9,"v":95},{"a":347.8,"b":349,"h":8,"v":130},{"a":347.8,"b":349,"h":7,"v":90},
{"a":354.6,"b":355.5,"h":14,"v":70},{"a":359,"b":359.8,"h":14,"v":105},{"a":359,"b":359.8,"h":10,"v":75}
]},"mark":{"type":"rect","height":37,"x2Offset":0.7},"encoding":{"x":{"field":"a","type":"quantitative","axis":null,"scale":{"domain":[0,363.5],"nice":false,"zero":false}},"x2":{"field":"b"},"y":{"field":"h","type":"ordinal","axis":null,"scale":{"domain":[23,22,21,20,19,18,17,16,15,14,13,12,11,10,9,8,7,6,5,4,3,2,1,0],"paddingInner":0,"paddingOuter":0}},"fill":{"field":"v","type":"quantitative","legend":null,"scale":{"domain":[8,53,59,155,168,285,294,375,382,415],"range":["#00007f","#0000ff","#0000ff","#00e4f7","#14ffe2","#f7ff08","#ffec00","#ff1300","#f10000","#7f0000"]}}}},
{"data":{"values":[{"a":18.9,"b":19.6,"v":12},{"a":46.9,"b":47.7,"v":12},{"a":144.6,"b":145.2,"v":14},{"a":184.1,"b":184.8,"v":20},{"a":243.3,"b":244,"v":22},{"a":328.2,"b":330.2,"v":25},{"a":356,"b":359,"v":28}]},"mark":{"type":"rect"},"encoding":{"x":{"field":"a","type":"quantitative","axis":null},"x2":{"field":"b"},"fill":{"field":"v","type":"quantitative","legend":null}}},
{"data":{"values":[{"a":0,"t":0}]},"mark":{"type":"point","opacity":0},"encoding":{"x":{"field":"a","type":"quantitative","title":"Date","axis":{"orient":"bottom","values":[0,31,59,90,120,151,181,212,243,273,304,334],"labelExpr":"timeFormat(datetime(2015,0,1+datum.value),'%m/%d')","grid":false,"tickSize":-11,"tickColor":"black","tickWidth":1.2,"domainColor":"black","domainWidth":2,"labelFontSize":31,"labelColor":"#111","labelPadding":25,"titleFontSize":52,"titleFontWeight":"normal","titleColor":"black","titlePadding":12,"zindex":1,"labelOverlap":false,"labelFlush":false}},"y":{"field":"t","type":"quantitative","title":"Time","scale":{"domain":[0,23],"nice":false,"zero":false},"axis":{"orient":"left","values":[0,5,10,15,20],"grid":false,"tickSize":-11,"tickColor":"black","tickWidth":1.2,"domainColor":"black","domainWidth":2,"labelFontSize":41,"labelColor":"#111","labelPadding":20,"labelOffset":-3,"titleFontSize":50,"titleFontWeight":"normal","titleColor":"black","titlePadding":14,"zindex":1}}}},
{"data":{"values":[{"a":0,"t":0}]},"mark":{"type":"point","opacity":0},"encoding":{"x":{"field":"a","type":"quantitative","title":null,"axis":{"orient":"top","values":[31,59,90,120,151,181,212,243,273,304,334],"labels":false,"grid":false,"tickSize":-11,"tickColor":"black","tickWidth":1.2,"domainColor":"black","domainWidth":2,"zindex":1}},"y":{"field":"t","type":"quantitative","title":null,"scale":{"domain":[0,23],"nice":false,"zero":false},"axis":{"orient":"right","values":[5,10,15,20],"labels":false,"grid":false,"tickSize":-11,"tickColor":"black","tickWidth":1.2,"domainColor":"black","domainWidth":2,"zindex":1}}}}
]},
{"width":45,"height":869,"data":{"values":[{"lo":10,"hi":417}]},"mark":{"type":"rect","stroke":"#111","strokeWidth":2,"fill":{"gradient":"linear","x1":0,"y1":1,"x2":0,"y2":0,"stops":[{"offset":0,"color":"#00007f"},{"offset":0.11,"color":"#0000ff"},{"offset":0.125,"color":"#0000ff"},{"offset":0.35,"color":"#00e4f7"},{"offset":0.375,"color":"#14ffe2"},{"offset":0.64,"color":"#f7ff08"},{"offset":0.66,"color":"#ffec00"},{"offset":0.89,"color":"#ff1300"},{"offset":0.91,"color":"#f10000"},{"offset":1,"color":"#7f0000"}]}},"encoding":{"y":{"field":"lo","type":"quantitative","title":"Available load (GW)","scale":{"domain":[10,417],"nice":false,"zero":false},"axis":{"orient":"right","values":[50,100,150,200,250,300,350,400],"grid":false,"domain":false,"tickSize":-12,"tickColor":"#111","tickWidth":1.2,"labelFontSize":30,"labelColor":"#222","labelPadding":19,"titleFontSize":53.5,"titleFontWeight":"normal","titleColor":"black","titleAngle":270,"titleBaseline":"top","titlePadding":10,"zindex":1}},"y2":{"field":"hi"}}}]}
